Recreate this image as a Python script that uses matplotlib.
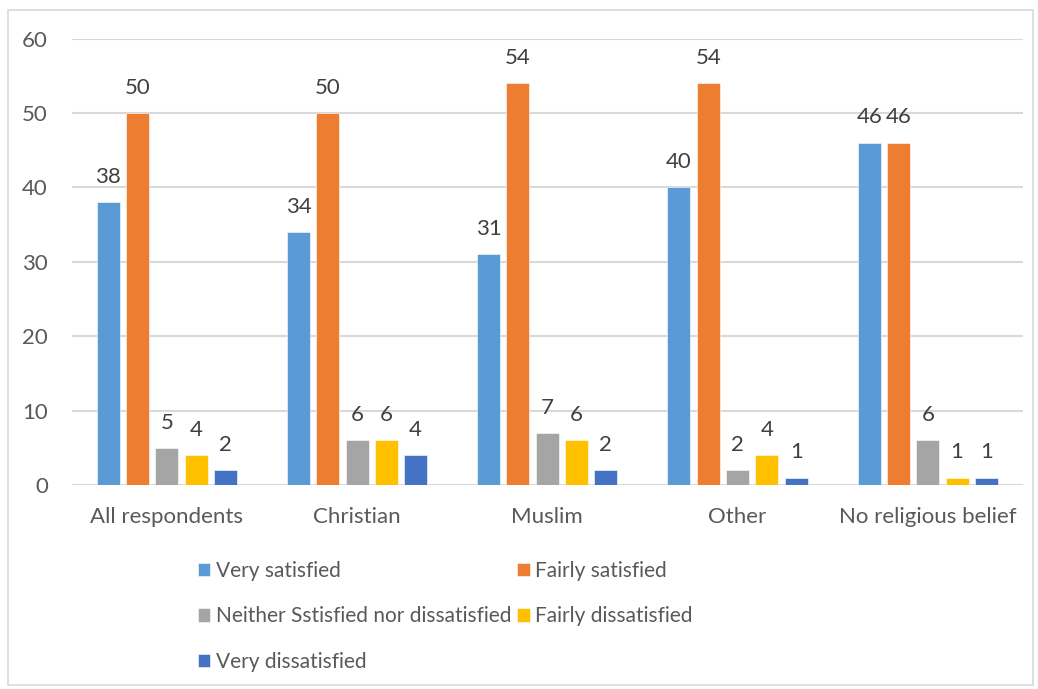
import matplotlib.pyplot as plt
import numpy as np
from matplotlib.patches import Rectangle

groups = ['All respondents', 'Christian', 'Muslim', 'Other', 'No religious belief']
series_names = ['Very satisfied', 'Fairly satisfied', 'Neither Sstisfied nor dissatisfied',
                'Fairly dissatisfied', 'Very dissatisfied']
very_satisfied = [38, 34, 31, 40, 46]
fairly_satisfied = [50, 50, 54, 54, 46]
neither = [5, 6, 7, 2, 6]
fairly_dissatisfied = [4, 6, 6, 4, 1]
very_dissatisfied = [2, 4, 2, 1, 1]
yticks = [0, 10, 20, 30, 40, 50, 60]

colors = ['#5B9BD5', '#ED7D31', '#A5A5A5', '#FFC000', '#4472C4']
text_color = '#595959'
grid_color = '#D9D9D9'
fs = 16

plt.rcParams['font.family'] = ['Lato', 'DejaVu Sans']

fig = plt.figure(figsize=(10.38, 6.89), dpi=100)
ax = fig.add_axes([0.069, 0.296, 0.9165, 0.648])

# light frame round the whole chart
fig.patches.append(Rectangle((0.008, 0.006), 0.987, 0.979, transform=fig.transFigure,
                             fill=False, edgecolor=grid_color, linewidth=1.2))

x = np.arange(len(groups))
pitch = 0.154
width = 0.121
all_series = [very_satisfied, fairly_satisfied, neither, fairly_dissatisfied, very_dissatisfied]
handles = []
for k, (vals, name, col) in enumerate(zip(all_series, series_names, colors)):
    pos = x + (k - 2) * pitch
    bars = ax.bar(pos, vals, width, color=col, label=name, zorder=3,
                  edgecolor='white', linewidth=0.4)
    handles.append(bars)
    for px, v in zip(pos, vals):
        ax.annotate(str(v), (px, v), xytext=(0, 11), textcoords='offset points',
                    ha='center', va='bottom', fontsize=fs, color='#404040')

ax.set_xlim(-0.5, len(groups) - 0.5)
ax.set_ylim(0, 60)
ax.set_yticks(yticks)
ax.set_xticks(x)
ax.set_xticklabels(groups)
ax.tick_params(axis='both', length=0, labelsize=fs, labelcolor=text_color)
ax.tick_params(axis='x', pad=16)
ax.tick_params(axis='y', pad=17)
ax.grid(axis='y', color=grid_color, linewidth=1.5, zorder=0)
for s in ax.spines.values():
    s.set_visible(False)

# row-wise order for a 2-column legend
order = [0, 2, 4, 1, 3]
leg = fig.legend([handles[i] for i in order], [series_names[i] for i in order],
                 ncol=2, loc='upper left', bbox_to_anchor=(0.1907, 0.186),
                 frameon=False, fontsize=15, handlelength=0.6, handleheight=0.6,
                 handletextpad=0.25, columnspacing=0.3, labelspacing=1.22,
                 borderpad=0, borderaxespad=0)
for t in leg.get_texts():
    t.set_color(text_color)

fig.savefig('out.png', dpi=100)
